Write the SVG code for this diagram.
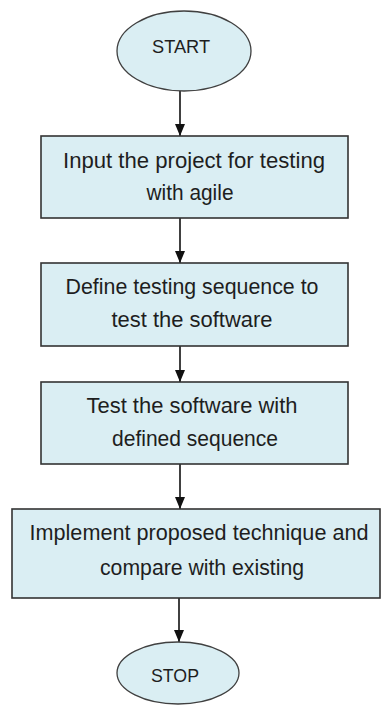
<svg xmlns="http://www.w3.org/2000/svg" width="381" height="705" viewBox="0 0 381 705">
  <style>
    .shape { fill: #DAEEF3; stroke: #333333; stroke-width: 1.6; }
    .term { fill: #DAEEF3; stroke: #404040; stroke-width: 1.3; }
    .lbl { font-family: "Liberation Sans", Arial, sans-serif; font-size: 22px; fill: #1e1e1e; text-anchor: middle; }
    .tlbl { font-family: "Liberation Sans", Arial, sans-serif; font-size: 18px; fill: #1e1e1e; text-anchor: middle; }
    .edge { stroke: #111111; stroke-width: 1.6; fill: none; marker-end: url(#arrow); }
  </style>
  <defs>
    <!-- filled triangular arrowhead, tip at the line end -->
    <marker id="arrow" viewBox="0 0 12 10" markerWidth="12" markerHeight="10" refX="12" refY="5" orient="auto" markerUnits="userSpaceOnUse">
      <path d="M0,0 L12,5 L0,10 Z" fill="#111111"/>
    </marker>
  </defs>

  <rect width="381" height="705" fill="#FFFFFF"/>

  <!-- connectors -->
  <g id="connectors">
    <line class="edge" x1="180" y1="91" x2="180" y2="136"/>
    <line class="edge" x1="180" y1="218" x2="180" y2="263"/>
    <line class="edge" x1="180" y1="346" x2="180" y2="382"/>
    <line class="edge" x1="180" y1="464" x2="180" y2="509"/>
    <line class="edge" x1="179" y1="598" x2="179" y2="642"/>
  </g>

  <g id="start">
    <ellipse class="term" cx="184" cy="51" rx="67" ry="40"/>
    <text class="tlbl" x="181" y="53" textLength="58" lengthAdjust="spacingAndGlyphs">START</text>
  </g>

  <g id="input">
    <rect class="shape" x="41" y="136" width="307" height="82"/>
    <text class="lbl" x="194" y="168" textLength="262" lengthAdjust="spacingAndGlyphs">Input the project for testing</text>
    <text class="lbl" x="190" y="200" textLength="87" lengthAdjust="spacingAndGlyphs">with agile</text>
  </g>

  <g id="define">
    <rect class="shape" x="41" y="263" width="307" height="83"/>
    <text class="lbl" x="192" y="294" textLength="253" lengthAdjust="spacingAndGlyphs">Define testing sequence to</text>
    <text class="lbl" x="192" y="327" textLength="161" lengthAdjust="spacingAndGlyphs">test the software</text>
  </g>

  <g id="test">
    <rect class="shape" x="41" y="382" width="307" height="82"/>
    <text class="lbl" x="192" y="413" textLength="211" lengthAdjust="spacingAndGlyphs">Test the software with</text>
    <text class="lbl" x="195" y="446" textLength="166" lengthAdjust="spacingAndGlyphs">defined sequence</text>
  </g>

  <g id="implement">
    <rect class="shape" x="12" y="509" width="368" height="89"/>
    <text class="lbl" x="199" y="540" textLength="339" lengthAdjust="spacingAndGlyphs">Implement proposed technique and</text>
    <text class="lbl" x="202" y="575" textLength="204" lengthAdjust="spacingAndGlyphs">compare with existing</text>
  </g>

  <g id="stop">
    <ellipse class="term" cx="178" cy="673" rx="61" ry="31"/>
    <text class="tlbl" x="175" y="682" textLength="48" lengthAdjust="spacingAndGlyphs">STOP</text>
  </g>
</svg>
